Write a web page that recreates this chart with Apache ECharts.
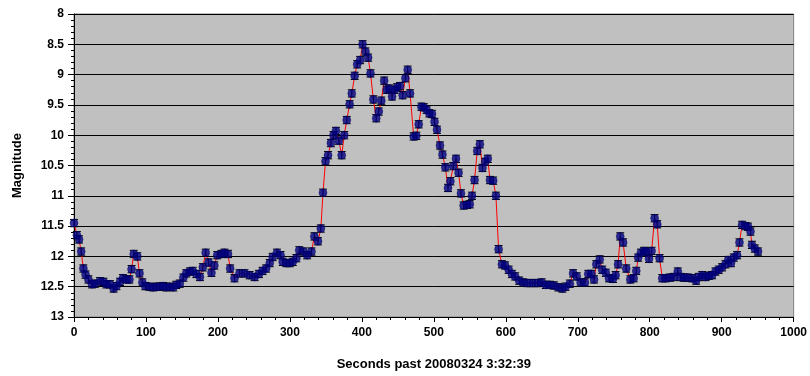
<!DOCTYPE html>
<html><head><meta charset="utf-8">
<script src="https://cdn.jsdelivr.net/npm/echarts@6/dist/echarts.min.js"></script>
<style>html,body{margin:0;padding:0;background:#fff}#c{width:810px;height:376px}</style>
</head><body><div id="c"></div>
<script>
var seconds = [0,4,7,10,13,16,20,25,29,36,41,45,50,55,59,64,68,73,77,80,83,88,91,95,99,105,110,115,119,124,128,133,138,142,147,152,156,161,165,170,175,179,183,187,191,195,199,205,209,214,217,223,230,237,244,251,257,262,267,272,276,282,287,290,295,300,304,309,313,319,324,330,334,339,343,346,349.5,353,357,360.6,364,368,372,375.5,379,383,386,390,393.5,397.6,401,405,408.7,412,416,420,423.5,427,431,434.5,438,442,445.6,449,453,456.7,460.5,463.7,467,472,475.7,479,482.7,486,490,493.8,497.5,501,504.4,508.6,512,516,519.7,523,527,530.8,534.4,537.7,541.4,546,550,553,556.6,560.3,564,567.6,571.4,575,578,582.5,586.3,590,594.6,599,604,608.5,613,618.6,624,630,637,644,650,655.6,661,667,673,678.7,683,689,693.5,698.6,704,710,714.6,719,722.6,725.8,730.5,734,739,743.4,749,752.6,756,759,763,767.4,773,777.7,781.3,784,787.8,792,795,799,802.6,806.8,810.4,813.7,817.4,822,828,833.6,839,842.7,847.3,853,859,864.5,868,873,877.7,882,886.7,891.4,896,900.6,905.3,909,913,916.8,921.4,924.7,928.3,933,936.6,940,942,946,950.5];
var magnitude = [11.45,11.65,11.72,11.92,12.2,12.3,12.38,12.46,12.45,12.41,12.42,12.46,12.46,12.53,12.49,12.42,12.36,12.38,12.38,12.21,11.96,12.0,12.28,12.43,12.49,12.5,12.51,12.5,12.5,12.49,12.51,12.5,12.51,12.47,12.45,12.35,12.28,12.25,12.24,12.29,12.34,12.18,11.94,12.1,12.27,12.15,11.98,11.96,11.94,11.96,12.2,12.36,12.28,12.28,12.31,12.34,12.29,12.24,12.2,12.11,12.01,11.94,11.98,12.09,12.11,12.11,12.09,12.03,11.9,11.92,11.98,11.92,11.67,11.75,11.54,10.95,10.43,10.33,10.13,10.0,9.93,10.09,10.33,10.0,9.75,9.49,9.31,9.02,8.83,8.76,8.5,8.62,8.72,8.98,9.41,9.72,9.61,9.43,9.1,9.25,9.23,9.36,9.25,9.21,9.19,9.34,9.06,8.92,9.31,10.02,10.01,9.82,9.53,9.54,9.58,9.64,9.65,9.78,9.91,10.17,10.32,10.53,10.87,10.76,10.51,10.39,10.62,10.96,11.16,11.15,11.14,11.0,10.74,10.26,10.15,10.54,10.44,10.39,10.74,10.75,11.0,11.88,12.13,12.15,12.22,12.29,12.33,12.4,12.43,12.44,12.44,12.44,12.43,12.47,12.47,12.48,12.51,12.53,12.5,12.45,12.28,12.33,12.43,12.43,12.29,12.29,12.38,12.13,12.05,12.22,12.27,12.36,12.37,12.31,12.13,11.67,11.77,12.2,12.38,12.36,12.24,12.02,11.94,11.91,11.92,12.04,11.91,11.37,11.47,12.03,12.36,12.36,12.35,12.34,12.25,12.34,12.35,12.35,12.36,12.4,12.34,12.31,12.34,12.32,12.31,12.25,12.22,12.18,12.13,12.06,12.11,12.02,11.98,11.77,11.48,11.5,11.51,11.59,11.81,11.87,11.92];
var errorMag = 0.06;
var xTickLabels = [0,100,200,300,400,500,600,700,800,900,1000];
var yTickLabels = [8,8.5,9,9.5,10,10.5,11,11.5,12,12.5,13];

var pts = seconds.map(function(s,i){return [s, magnitude[i]];});
var errData = seconds.map(function(s,i){return [s, magnitude[i]-errorMag, magnitude[i]+errorMag];});

var chart = echarts.init(document.getElementById('c'));
var font = '"Liberation Sans", Arial, sans-serif';
chart.setOption({
  animation:false,
  backgroundColor:'#ffffff',
  grid:{left:74, top:14, right:16, bottom:59, show:true, backgroundColor:'#c0c0c0', borderColor:'#808080', borderWidth:1},
  xAxis:{type:'value', min:0, max:1000, interval:100,
    name:'Seconds past 20080324 3:32:39', nameLocation:'middle', nameGap:41,
    nameTextStyle:{fontFamily:font, fontWeight:'bold', fontSize:13, color:'#000'},
    axisLine:{show:true, onZero:false, lineStyle:{color:'#000', width:1}},
    axisTick:{show:true, length:5, lineStyle:{color:'#000'}},
    minorTick:{show:true, splitNumber:5, length:3, lineStyle:{color:'#000'}},
    splitLine:{show:false},
    axisLabel:{fontFamily:font, fontWeight:'bold', fontSize:12, color:'#000', margin:10,
      formatter:function(v){return xTickLabels.indexOf(v)>=0? String(v):'';}}
  },
  yAxis:{type:'value', inverse:true, min:8, max:13, interval:0.5,
    name:'Magnitude', nameLocation:'middle', nameGap:50, nameRotate:90,
    nameTextStyle:{fontFamily:font, fontWeight:'bold', fontSize:13, color:'#000'},
    axisLine:{show:true, lineStyle:{color:'#000', width:1}},
    axisTick:{show:true, length:6, lineStyle:{color:'#000'}},
    minorTick:{show:true, splitNumber:5, length:3, lineStyle:{color:'#000'}},
    splitLine:{show:true, lineStyle:{color:'#000', width:1}},
    axisLabel:{fontFamily:font, fontWeight:'bold', fontSize:12, color:'#000', margin:10,
      formatter:function(v){var r=Math.round(v*10)/10; return yTickLabels.indexOf(r)>=0? String(r):'';}}
  },
  series:[
    {type:'line', data:pts, symbol:'none', lineStyle:{color:'#ff0000', width:1}, z:2},
    {type:'custom', z:3, data:errData,
      renderItem:function(params, api){
        var x=api.value(0);
        var p1=api.coord([x, api.value(1)]);
        var p2=api.coord([x, api.value(2)]);
        var hw=4;
        return {type:'group', children:[
          {type:'line', shape:{x1:p1[0],y1:p1[1],x2:p2[0],y2:p2[1]}, style:{stroke:'#000', lineWidth:1}},
          {type:'line', shape:{x1:p1[0]-hw,y1:p1[1],x2:p1[0]+hw,y2:p1[1]}, style:{stroke:'#000', lineWidth:1}},
          {type:'line', shape:{x1:p2[0]-hw,y1:p2[1],x2:p2[0]+hw,y2:p2[1]}, style:{stroke:'#000', lineWidth:1}}
        ]};
      }},
    {type:'scatter', data:pts, symbol:'circle', symbolSize:8, z:4,
      itemStyle:{color:'#000080', borderColor:'#000060', borderWidth:0.5}}
  ]
});
</script></body></html>
